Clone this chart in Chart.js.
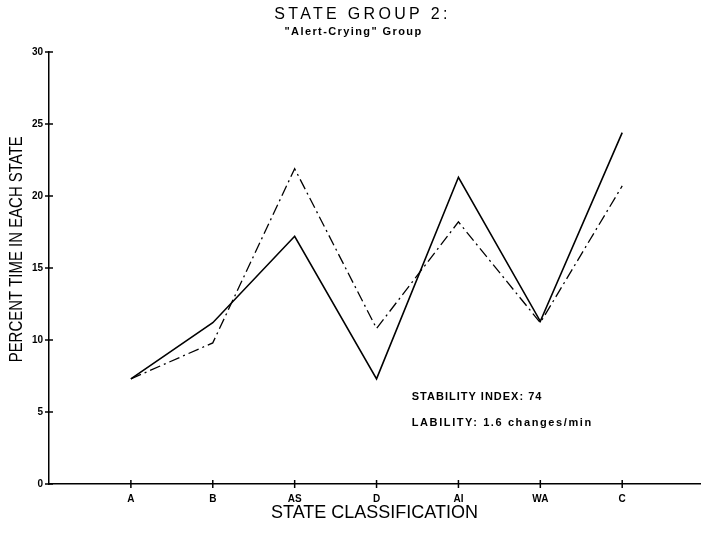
<!DOCTYPE html>
<html>
<head>
<meta charset="utf-8">
<title>State Group 2</title>
<script src="https://cdn.jsdelivr.net/npm/chart.js@4"></script>
<style>
  html, body { margin: 0; padding: 0; background: #fff; }
  #wrap { width: 702px; height: 534px; }
</style>
</head>
<body>
<div id="wrap"><canvas id="stateChart" width="702" height="534"></canvas></div>
<script>
// State categories along the x axis
const categories = ["A", "B", "AS", "D", "AI", "WA", "C"];

// Percent time in each state
const solidSeries = [7.3, 11.2, 17.2, 7.3, 21.3, 11.3, 24.4];
const dashDotSeries = [7.3, 9.8, 21.9, 10.8, 18.2, 11.2, 20.7];

const yTicks = [0, 5, 10, 15, 20, 25, 30];

const titleText = "STATE GROUP 2:";
const subtitleText = '"Alert-Crying" Group';
const notes = ["STABILITY INDEX: 74", "LABILITY: 1.6 changes/min"];

const plotFont = '"Liberation Sans", Arial, sans-serif';

// turn the arrays into {x, y} points on a linear index scale
function toPoints(values) {
  return values.map((v, i) => ({ x: i, y: v }));
}

// titles, y-axis label, notes and the little cross ticks
const decorations = {
  id: "decorations",
  afterDraw(chart) {
    const ctx = chart.ctx;
    const xs = chart.scales.x;
    const ys = chart.scales.y;
    const area = chart.chartArea;
    ctx.save();
    ctx.fillStyle = "#000";
    ctx.strokeStyle = "#000";

    // cross ticks on both axes
    ctx.lineWidth = 1.5;
    yTicks.forEach((t) => {
      const py = ys.getPixelForValue(t);
      ctx.beginPath();
      ctx.moveTo(area.left - 4, py);
      ctx.lineTo(area.left + 4, py);
      ctx.stroke();
    });
    categories.forEach((c, i) => {
      const px = xs.getPixelForValue(i);
      ctx.beginPath();
      ctx.moveTo(px, area.bottom - 4);
      ctx.lineTo(px, area.bottom + 4);
      ctx.stroke();
    });

    // title and subtitle
    const cx = (area.left + area.right) / 2 - 22;
    ctx.textAlign = "center";
    ctx.textBaseline = "alphabetic";
    ctx.letterSpacing = "3.3px";
    ctx.font = "16px " + plotFont;
    ctx.fillText(titleText, cx + 10, 19);
    ctx.letterSpacing = "1.4px";
    ctx.font = "bold 11px " + plotFont;
    ctx.fillText(subtitleText, cx + 1, 35);

    // rotated y-axis label, squeezed like the plotter lettering
    ctx.letterSpacing = "0px";
    ctx.save();
    ctx.translate(22, ys.getPixelForValue(16.3));
    ctx.rotate(-Math.PI / 2);
    ctx.scale(0.83, 1);
    ctx.font = "18px " + plotFont;
    ctx.fillText("PERCENT TIME IN EACH STATE", 0, 0);
    ctx.restore();

    // stability notes
    ctx.textAlign = "left";
    ctx.font = "bold 11px " + plotFont;
    const nx = xs.getPixelForValue(3.43);
    ctx.letterSpacing = "1px";
    ctx.fillText(notes[0], nx, ys.getPixelForValue(5.8));
    ctx.letterSpacing = "1.6px";
    ctx.fillText(notes[1], nx, ys.getPixelForValue(4.0));
    ctx.restore();
  },
};

const ctx = document.getElementById("stateChart").getContext("2d");

new Chart(ctx, {
  type: "line",
  data: {
    datasets: [
      {
        label: "Solid",
        data: toPoints(solidSeries),
        borderColor: "#000",
        borderWidth: 1.6,
        pointRadius: 0,
        tension: 0,
        fill: false,
      },
      {
        label: "Dash-dot",
        data: toPoints(dashDotSeries),
        borderColor: "#000",
        borderWidth: 1.3,
        borderDash: [11, 4, 2, 4],
        pointRadius: 0,
        tension: 0,
        fill: false,
      },
    ],
  },
  options: {
    responsive: false,
    animation: false,
    layout: { padding: { top: 52, right: 2, left: 0, bottom: 0 } },
    plugins: {
      legend: { display: false },
      tooltip: { enabled: false },
    },
    scales: {
      x: {
        type: "linear",
        min: -1,
        max: 6.95,
        afterFit: (scale) => {
          scale.height = 50;
        },
        afterBuildTicks: (scale) => {
          scale.ticks = categories.map((c, i) => ({ value: i }));
        },
        ticks: {
          autoSkip: false,
          maxRotation: 0,
          padding: 9,
          color: "#000",
          font: { family: plotFont, size: 10, weight: "bold" },
          callback: (value) => categories[value] || "",
        },
        grid: { display: false, drawTicks: false },
        border: { display: true, color: "#000", width: 1.5 },
        title: {
          display: true,
          text: "STATE CLASSIFICATION",
          color: "#000",
          font: { family: plotFont, size: 18 },
          padding: { top: 0, bottom: 10 },
        },
      },
      y: {
        min: 0,
        max: 30,
        afterFit: (scale) => {
          scale.width = 49;
        },
        afterBuildTicks: (scale) => {
          scale.ticks = yTicks.map((v) => ({ value: v }));
        },
        ticks: {
          padding: 6,
          color: "#000",
          font: { family: plotFont, size: 10, weight: "bold" },
        },
        grid: { display: false, drawTicks: false },
        border: { display: true, color: "#000", width: 1.5 },
      },
    },
  },
  plugins: [decorations],
});
</script>
</body>
</html>
